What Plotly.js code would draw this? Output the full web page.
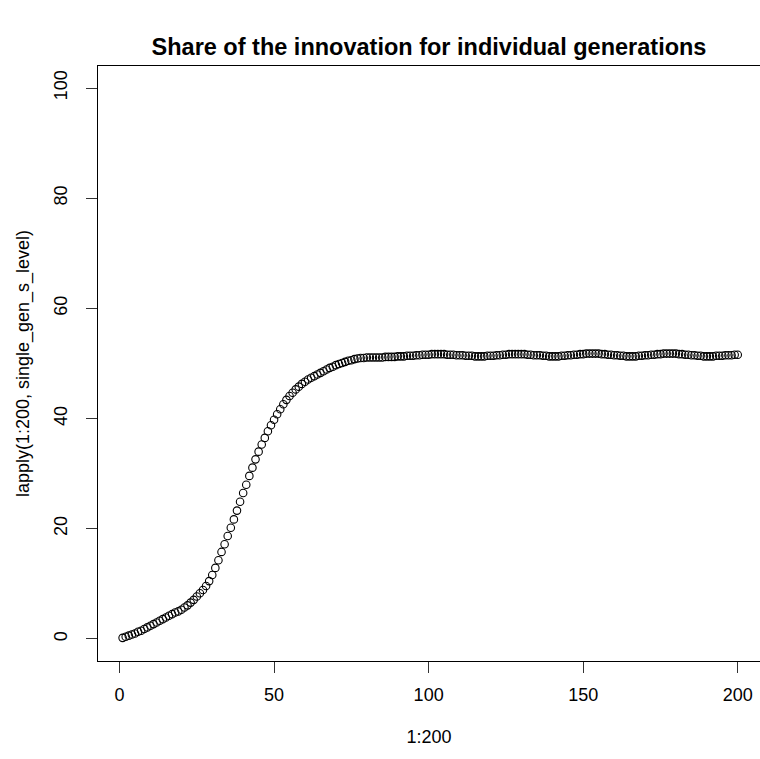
<!DOCTYPE html>
<html>
<head>
<meta charset="utf-8">
<script src="https://cdn.plot.ly/plotly-3.0.1.min.js"></script>
<style>
  html, body { margin: 0; padding: 0; background: #ffffff; }
  #chart { width: 760px; height: 759px; }
</style>
</head>
<body>
<div id="chart"></div>
<script>
// Generation index 1..200
const generations = [];
for (let i = 1; i <= 200; i++) generations.push(i);

// Share of the innovation
const shareRise = [
  0.2, 0.4, 0.6, 0.8, 1.0, 1.3, 1.5, 1.8, 2.1, 2.4,
  2.7, 3.0, 3.3, 3.6, 3.9, 4.2, 4.5, 4.8, 5.0, 5.3,
  5.7, 6.1, 6.6, 7.1, 7.7, 8.3, 8.9, 9.6, 10.5, 11.6,
  12.9, 14.3, 15.8, 17.2, 18.7, 20.2, 21.7, 23.3, 24.9, 26.5,
  28.0, 29.6, 31.1, 32.6, 34.0, 35.3, 36.5, 37.7, 38.8, 39.8,
  40.8, 41.7, 42.6, 43.4, 44.1, 44.7, 45.3, 45.8, 46.3, 46.7,
  47.1, 47.4, 47.7, 48.0, 48.3, 48.6, 48.9, 49.2, 49.4, 49.7,
  49.9, 50.1, 50.3, 50.5, 50.6, 50.8, 50.9, 51.0, 51.0, 51.1
];
const sharePlateau = [
  51.1, 51.1, 51.1, 51.1, 51.1, 51.2, 51.2, 51.2, 51.2, 51.3,
  51.3, 51.3, 51.4, 51.4, 51.4, 51.5, 51.5, 51.6, 51.6, 51.6,
  51.7, 51.7, 51.7, 51.7, 51.7, 51.6, 51.6, 51.6, 51.5, 51.5,
  51.5, 51.4, 51.4, 51.4, 51.3, 51.3, 51.3, 51.3, 51.4, 51.4,
  51.4, 51.5, 51.5, 51.6, 51.6, 51.7, 51.7, 51.7, 51.7, 51.7,
  51.7, 51.6, 51.6, 51.5, 51.5, 51.5, 51.4, 51.4, 51.3, 51.3,
  51.3, 51.3, 51.4, 51.4, 51.5, 51.5, 51.6, 51.6, 51.7, 51.7,
  51.8, 51.8, 51.8, 51.8, 51.8, 51.7, 51.7, 51.6, 51.6, 51.5,
  51.5, 51.4, 51.4, 51.3, 51.3, 51.3, 51.3, 51.4, 51.4, 51.5,
  51.5, 51.6, 51.6, 51.7, 51.7, 51.8, 51.8, 51.8, 51.8, 51.8,
  51.7, 51.7, 51.6, 51.6, 51.5, 51.5, 51.4, 51.4, 51.3, 51.3,
  51.3, 51.3, 51.4, 51.4, 51.4, 51.5, 51.5, 51.5, 51.6, 51.6
];
const shareValues = shareRise.concat(sharePlateau);

const xTickVals = [0, 50, 100, 150, 200];
const yTickVals = [0, 20, 40, 60, 80, 100];

const titleText = "Share of the innovation for individual generations";
const xTitle = "1:200";
const yTitle = "lapply(1:200, single_gen_s_level)";

const FONT = "Liberation Sans, Arial, Helvetica, sans-serif";

const trace = {
  x: generations,
  y: shareValues,
  type: "scatter",
  mode: "markers",
  marker: {
    symbol: "circle-open",
    size: 7.5,
    color: "#000000",
    line: { width: 1.1, color: "#000000" }
  },
  hoverinfo: "x+y"
};

const layout = {
  width: 760,
  height: 759,
  margin: { l: 98, r: 0, t: 66, b: 98, pad: 0 },
  paper_bgcolor: "#ffffff",
  plot_bgcolor: "#ffffff",
  showlegend: false,
  font: { family: FONT, size: 18, color: "#000000" },
  title: {
    text: "<b>" + titleText + "</b>",
    font: { family: FONT, size: 23.5, color: "#000000" },
    x: 0.5, xref: "paper", xanchor: "center",
    y: 1 - 47 / 759, yref: "container", yanchor: "middle"
  },
  xaxis: {
    range: [-6.96, 207.2],
    tickmode: "array",
    tickvals: xTickVals,
    ticks: "outside",
    ticklen: 11,
    tickwidth: 1,
    tickcolor: "#333333",
    ticklabelstandoff: 6,
    showgrid: false,
    zeroline: false,
    showline: true,
    mirror: true,
    linecolor: "#000000",
    linewidth: 1,
    tickfont: { family: FONT, size: 18, color: "#000000" },
    title: { text: xTitle, standoff: 26, font: { family: FONT, size: 18, color: "#000000" } }
  },
  yaxis: {
    range: [-4, 104],
    tickmode: "array",
    tickvals: yTickVals,
    ticks: "outside",
    ticklen: 11,
    tickwidth: 1,
    tickcolor: "#333333",
    tickangle: -90,
    ticklabelstandoff: 12,
    showgrid: false,
    zeroline: false,
    showline: true,
    mirror: false,
    linecolor: "#000000",
    linewidth: 1,
    tickfont: { family: FONT, size: 18, color: "#000000" },
    title: { text: yTitle, standoff: 16, font: { family: FONT, size: 18, color: "#000000" } }
  }
};

Plotly.newPlot("chart", [trace], layout, { displayModeBar: false, staticPlot: true });
</script>
</body>
</html>
